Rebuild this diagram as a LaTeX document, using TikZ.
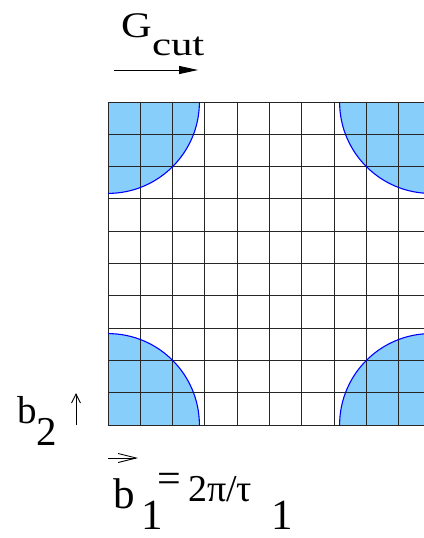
\documentclass[tikz,border=0pt]{standalone}
\usepackage{fontspec}
\usepackage{graphicx}
\setmainfont{Liberation Serif}
\usetikzlibrary{arrows.meta}
\definecolor{fillblue}{RGB}{135,206,250}
\definecolor{arcblue}{RGB}{0,0,255}
\newcommand{\fs}[1]{\fontsize{#1}{#1}\selectfont}
\begin{document}
\begin{tikzpicture}[x=1pt,y=-1pt,
  gridline/.style={line width=1pt,draw=black!85},
  arcline/.style={arcblue,line width=1.1pt},
  lbl/.style={inner sep=0pt,outer sep=0pt,anchor=base west},
  vecarrow/.style={line width=0.9pt}]
\useasboundingbox (0,0) rectangle (423,538);
\def\cs{32.3}
\def\rr{91.4pt}
% quarter disks
\begin{scope}
  \clip (108,102) rectangle (431,425);
  \fill[fillblue] (108,102) circle[radius=\rr];
  \fill[fillblue] (431,102) circle[radius=\rr];
  \fill[fillblue] (108,425) circle[radius=\rr];
  \fill[fillblue] (431,425) circle[radius=\rr];
\end{scope}
% grid
\foreach \i in {0,...,10} {
  \draw[gridline] (108+\cs*\i,102) -- (108+\cs*\i,425);
  \draw[gridline] (108,102+\cs*\i) -- (431,102+\cs*\i);
}
% arcs
\begin{scope}
  \clip (108,102) rectangle (431,425);
  \draw[arcline] (108,102) circle[radius=\rr];
  \draw[arcline] (431,102) circle[radius=\rr];
  \draw[arcline] (108,425) circle[radius=\rr];
  \draw[arcline] (431,425) circle[radius=\rr];
\end{scope}
% G_cut
\node[lbl,font=\fs{36}] (G) at (121,37) {\scalebox{1.18}[1]{G}};
\node[lbl,font=\fs{33}] (cut) at (152,55) {\scalebox{1.3}[1]{cut}};
\coordinate (ga) at (114,70);
\coordinate (gb) at (198,70);
\draw[vecarrow,-{Triangle[length=19pt,width=8pt]}] (ga) -- (gb);
% b2
\node[lbl,font=\fs{39}] (b2) at (17,423) {b};
\node[lbl,font=\fs{41}] (s2) at (36,445) {2};
\coordinate (ua) at (76,425);
\coordinate (ub) at (76,393);
\draw[vecarrow,-{Straight Barb[length=9pt,width=9pt]}] (ua) -- (ub);
% b1
\coordinate (va) at (108,458);
\coordinate (vb) at (138,458);
\draw[vecarrow,-{Straight Barb[length=18pt,width=9pt]}] (va) -- (vb);
\node[lbl,font=\fs{43}] (b1) at (113,508) {b};
\node[lbl,font=\fs{43}] (s1) at (141,529) {1};
\node[lbl,font=\fs{42}] (eq) at (157,492) {=};
\node[lbl,font=\fs{38}] (tau) at (188,501) {2π/τ};
\node[lbl,font=\fs{43}] (s3) at (271,529) {1};
\end{tikzpicture}
\end{document}
